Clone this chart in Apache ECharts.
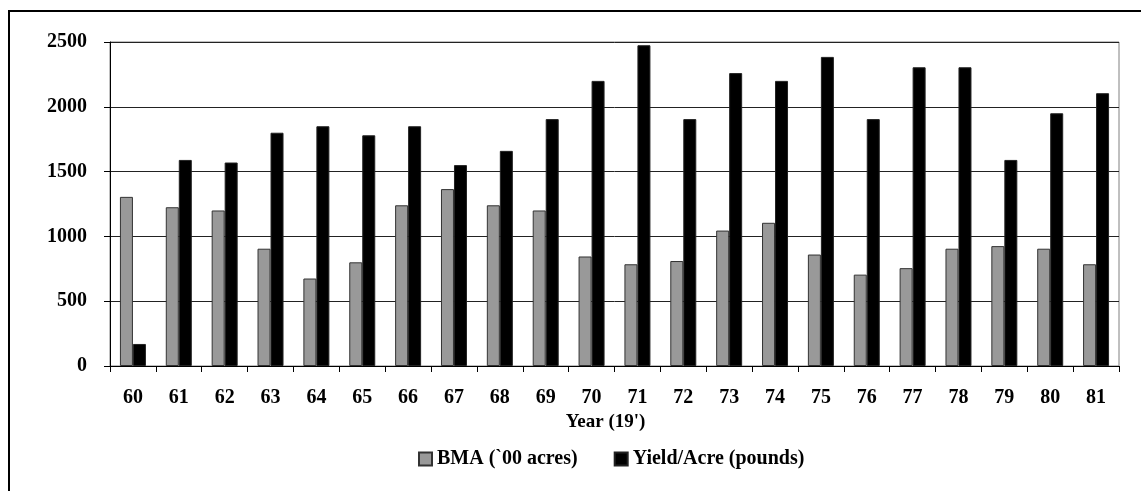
<!DOCTYPE html>
<html>
<head>
<meta charset="utf-8">
<script src="https://cdn.jsdelivr.net/npm/echarts@6/dist/echarts.min.js"></script>
<style>
html,body{margin:0;padding:0;background:#fff;}
#c{width:1141px;height:491px;}
</style>
</head>
<body>
<div id="c"></div>
<script>
var years = ['60','61','62','63','64','65','66','67','68','69','70','71','72','73','74','75','76','77','78','79','80','81'];
var bma = [1305,1225,1200,905,675,800,1240,1365,1240,1200,845,785,810,1045,1105,860,705,755,905,925,905,785];
var yieldAcre = [170,1590,1570,1800,1850,1780,1850,1550,1660,1905,2200,2475,1905,2260,2200,2385,1905,2305,2305,1590,1950,2105];
var yTicks = [0,500,1000,1500,2000,2500];

var FONT = '"Liberation Serif", "Times New Roman", serif';
var chart = echarts.init(document.getElementById('c'));
chart.setOption({
  animation: false,
  backgroundColor: '#fff',
  textStyle: {fontFamily: FONT, color: '#000'},
  graphic: [{
    type: 'rect', silent: true,
    shape: {x: 9, y: 11, width: 1200, height: 600},
    style: {fill: 'none', stroke: '#000', lineWidth: 2}
  }],
  grid: {left: 110, right: 22, top: 42, bottom: 125, show: true, borderColor: '#808080', borderWidth: 1, backgroundColor: 'transparent'},
  legend: {
    left: 413, top: 444,
    itemWidth: 13, itemHeight: 13, itemGap: 36,
    icon: 'rect',
    textStyle: {fontFamily: FONT, fontWeight: 'bold', fontSize: 20, color: '#000'},
    data: ['BMA (`00 acres)', 'Yield/Acre (pounds)']
  },
  xAxis: {
    type: 'category',
    data: years,
    name: "Year (19')",
    nameLocation: 'middle',
    nameGap: 40,
    nameTextStyle: {fontFamily: FONT, fontWeight: 'bold', fontSize: 19, color: '#000', padding: [0, 18, 0, 0]},
    axisLine: {lineStyle: {color: '#000', width: 1}},
    axisTick: {show: true, length: 6, lineStyle: {color: '#000'}},
    axisLabel: {fontFamily: FONT, fontWeight: 'bold', fontSize: 20, color: '#000', margin: 22}
  },
  yAxis: {
    type: 'value',
    min: 0, max: 2500, interval: 500,
    axisLine: {show: true, lineStyle: {color: '#000', width: 1}},
    axisTick: {show: true, length: 6, lineStyle: {color: '#000'}},
    axisLabel: {fontFamily: FONT, fontWeight: 'bold', fontSize: 20, color: '#000', margin: 23,
      formatter: function(v){ return yTicks.indexOf(v) >= 0 ? String(v) : ''; }},
    splitLine: {show: true, lineStyle: {color: '#222', width: 1}}
  },
  series: [{
    name: 'BMA (`00 acres)',
    type: 'bar',
    data: bma,
    barWidth: 13,
    barGap: '0%',
    itemStyle: {color: '#999999', borderColor: '#333', borderWidth: 1}
  }, {
    name: 'Yield/Acre (pounds)',
    type: 'bar',
    data: yieldAcre,
    barWidth: 13,
    barGap: '0%',
    itemStyle: {color: '#000000', borderColor: '#222', borderWidth: 1}
  }]
});
</script>
</body>
</html>
